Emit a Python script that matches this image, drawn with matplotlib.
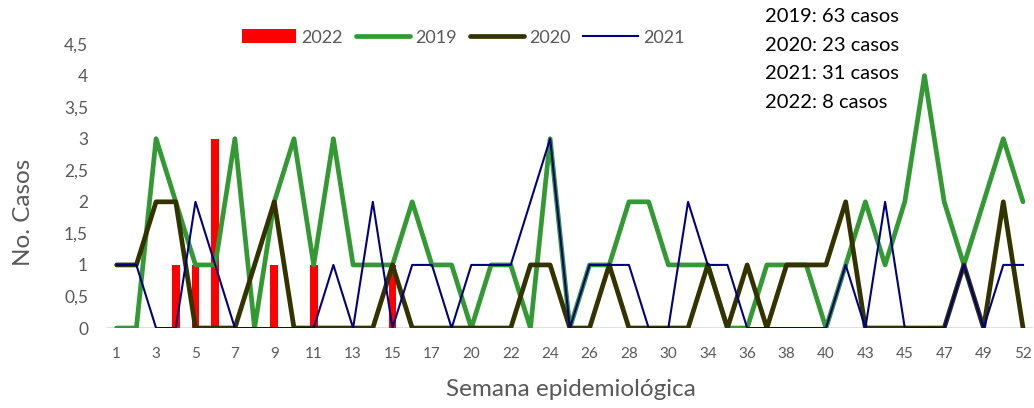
import numpy as np
import matplotlib.pyplot as plt
from matplotlib.patches import Patch
from matplotlib.lines import Line2D

plt.rcParams['font.family'] = ['Lato', 'DejaVu Sans']

# Semanas epidemiológicas (categorías del eje)
semanas = [1, 2, 3, 4, 5, 6, 7, 8, 9, 10, 11, 12, 13, 14, 15, 16, 17, 18,
           20, 21, 22, 23, 24, 25, 26, 27, 28, 29, 30, 32,
           34, 35, 36, 37, 38, 39, 40, 41,
           43, 44, 45, 46, 47, 48, 49, 50, 52]

casos_2019 = [0, 0, 3, 2, 1, 1, 3, 0, 2, 3, 1, 3, 1, 1, 1, 2, 1, 1,
              0, 1, 1, 0, 3, 0, 1, 1, 2, 2, 1, 1,
              1, 0, 0, 1, 1, 1, 0, 1,
              2, 1, 2, 4, 2, 1, 2, 3, 2]
casos_2020 = [1, 1, 2, 2, 0, 0, 0, 1, 2, 0, 0, 0, 0, 0, 1, 0, 0, 0,
              0, 0, 0, 1, 1, 0, 0, 1, 0, 0, 0, 0,
              1, 0, 1, 0, 1, 1, 1, 2,
              0, 0, 0, 0, 0, 1, 0, 2, 0]
casos_2021 = [1, 1, 0, 0, 2, 1, 0, 0, 0, 0, 0, 1, 0, 2, 0, 1, 1, 0,
              1, 1, 1, 2, 3, 0, 1, 1, 1, 0, 0, 2,
              1, 1, 0, 0, 0, 0, 0, 1,
              0, 2, 0, 0, 0, 1, 0, 1, 1]
casos_2022 = [0, 0, 0, 1, 1, 3, 0, 0, 1, 0, 1, 0, 0, 0, 1, 0, 0, 0,
              0, 0, 0, 0, 0, 0, 0, 0, 0, 0, 0, 0,
              0, 0, 0, 0, 0, 0, 0, 0,
              0, 0, 0, 0, 0, 0, 0, 0, 0]

totales = ['2019: 63 casos', '2020: 23 casos', '2021: 31 casos', '2022: 8 casos']

gris = '#595959'
x = np.arange(len(semanas))

fig = plt.figure(figsize=(10.34, 4.08), dpi=100)
ax = fig.add_axes([0.1033, 0.196, 0.8956, 0.696])

ax.bar(x, casos_2022, width=0.4, color='#ff0000', zorder=2)
ax.plot(x, casos_2019, color='#339933', lw=3.4, solid_joinstyle='round',
        solid_capstyle='round', zorder=3)
ax.plot(x, casos_2020, color='#333300', lw=3.4, solid_joinstyle='round',
        solid_capstyle='round', zorder=4)
ax.plot(x, casos_2021, color='#000080', lw=1.5, solid_joinstyle='round', zorder=5)

ax.axhline(0, color='#d9d9d9', lw=1.2, zorder=1)

ax.set_xlim(-0.5, len(semanas) - 0.5)
ax.set_ylim(0, 4.5)
ax.set_xticks(x[::2])
ax.set_xticklabels([str(s) for s in semanas[::2]])
yt = np.arange(0, 4.51, 0.5)
ax.set_yticks(yt)
ax.set_yticklabels([('%g' % v).replace('.', ',') for v in yt])
ax.tick_params(axis='x', length=0, pad=14, labelsize=11, labelcolor=gris)
ax.tick_params(axis='y', length=0, pad=13.5, labelsize=12.5, labelcolor=gris)
for s in ax.spines.values():
    s.set_visible(False)

# títulos de los ejes
fig.text(571 / 1034, 1 - 389 / 408, 'Semana epidemiológica', fontsize=17.5,
         color=gris, ha='center', va='center')
fig.text(24 / 1034, 1 - 212 / 408, 'No. Casos', fontsize=17.5, color=gris,
         rotation=90, ha='center', va='center')

handles = [Patch(facecolor='#ff0000', edgecolor='none'),
           Line2D([], [], color='#339933', lw=3.4, solid_capstyle='round'),
           Line2D([], [], color='#333300', lw=3.4, solid_capstyle='round'),
           Line2D([], [], color='#000080', lw=1.5)]
leg = fig.legend(handles, ['2022', '2019', '2020', '2021'], ncol=4,
                 loc='center', bbox_to_anchor=(0.448, 0.908), frameon=False,
                 fontsize=13, handlelength=3.0, handleheight=0.8,
                 handletextpad=0.3, columnspacing=0.7)
for t in leg.get_texts():
    t.set_color(gris)

for k, t in enumerate(totales):
    fig.text(0.74, 1 - (17 + 28.4 * k) / 408, t, fontsize=14.5, color='black',
             va='center', ha='left')

fig.savefig('out.png', dpi=100)
